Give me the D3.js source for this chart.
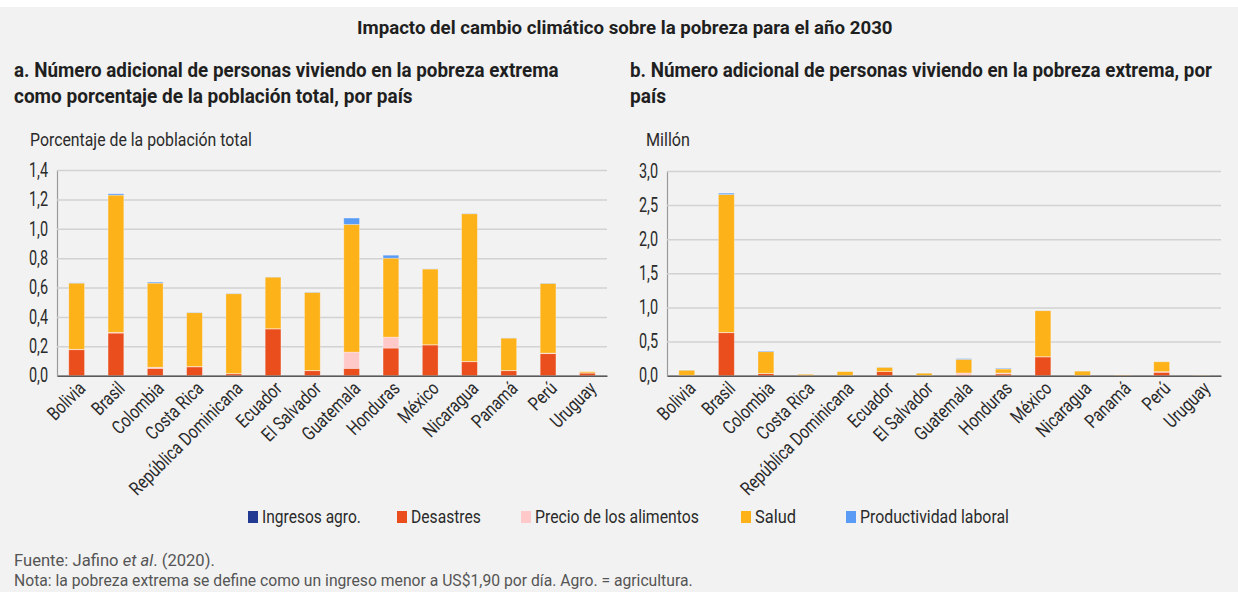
<!DOCTYPE html>
<html>
<head>
<meta charset="utf-8">
<script src="https://cdn.jsdelivr.net/npm/d3@7"></script>
<style>
  html, body { margin: 0; padding: 0; background: #fff; }
  svg { display: block; font-family: Roboto, "Noto Sans", sans-serif; }
</style>
</head>
<body>
<svg id="chart" width="1238" height="592"></svg>
<script>
// Countries shown on both panels
const countries = ["Bolivia", "Brasil", "Colombia", "Costa Rica", "República Dominicana", "Ecuador",
  "El Salvador", "Guatemala", "Honduras", "México", "Nicaragua", "Panamá", "Perú", "Uruguay"];

// Channels, bottom to top of each stack
const seriesNames = ["Ingresos agro.", "Desastres", "Precio de los alimentos", "Salud", "Productividad laboral"];
const seriesColors = ["#233a92", "#ea4e1c", "#ffc9c9", "#fdb21a", "#5a9bf5"];

// Panel a: additional people in extreme poverty, % of total population
const pctIngresos  = [0, 0, 0, 0, 0, 0, 0, 0, 0, 0, 0, 0, 0, 0];
const pctDesastres = [0.177, 0.29, 0.05, 0.06, 0.013, 0.318, 0.034, 0.05, 0.188, 0.209, 0.095, 0.034, 0.15, 0.018];
const pctPrecio    = [0.003, 0.005, 0.008, 0.003, 0.002, 0.002, 0.002, 0.111, 0.075, 0.002, 0.002, 0.002, 0.004, 0.001];
const pctSalud     = [0.45, 0.934, 0.572, 0.366, 0.543, 0.351, 0.531, 0.869, 0.537, 0.515, 1.005, 0.22, 0.474, 0.008];
const pctProd      = [0.002, 0.009, 0.007, 0.002, 0.002, 0.001, 0.002, 0.043, 0.02, 0.001, 0.002, 0.001, 0.002, 0];

// Panel b: additional people in extreme poverty, millions
const mlnIngresos  = [0, 0, 0, 0, 0, 0, 0, 0, 0, 0, 0, 0, 0, 0];
const mlnDesastres = [0.005, 0.63, 0.03, 0.002, 0.003, 0.06, 0.003, 0.01, 0.025, 0.275, 0.004, 0.003, 0.05, 0.001];
const mlnPrecio    = [0.001, 0.005, 0.005, 0, 0.001, 0.001, 0.001, 0.03, 0.015, 0.004, 0.001, 0, 0.01, 0];
const mlnSalud     = [0.075, 2.02, 0.317, 0.02, 0.058, 0.062, 0.034, 0.2, 0.058, 0.674, 0.063, 0.005, 0.145, 0.004];
const mlnProd      = [0.002, 0.02, 0.01, 0.001, 0.001, 0.002, 0.001, 0.01, 0.01, 0.002, 0.001, 0, 0.001, 0];

// Axis ticks
const pctTicks = [0, 0.2, 0.4, 0.6, 0.8, 1.0, 1.2, 1.4];
const mlnTicks = [0, 0.5, 1.0, 1.5, 2.0, 2.5, 3.0];

const svg = d3.select("#chart");
const fmt = d3.format(".1f");
const comma = v => fmt(v).replace(".", ",");

// Squeeze short labels horizontally to emulate a condensed face
function squeeze(sel, k) {
  sel.each(function () {
    const len = this.getComputedTextLength();
    d3.select(this).attr("textLength", len * k).attr("lengthAdjust", "spacingAndGlyphs");
  });
  return sel;
}

// Place a text at (x, y) and scale it horizontally to span width w
function label(parent, x, y, w, size, weight, color, build) {
  const t = parent.append("text").attr("x", 0).attr("y", 0)
    .attr("font-size", size).attr("font-weight", weight).attr("fill", color);
  build(t);
  const len = t.node().getComputedTextLength();
  t.attr("transform", `translate(${x},${y}) scale(${w / len},1)`);
  return t;
}

// Background panel
svg.append("rect").attr("x", 0).attr("y", 7).attr("width", 1238).attr("height", 585).attr("fill", "#f2f2f2");

// Main title
label(svg, 357, 34, 536, 19, 700, "#1f1f1f",
  t => t.text("Impacto del cambio climático sobre la pobreza para el año 2030"));

function panel(opts) {
  const g = svg.append("g");
  opts.title.forEach((line, i) => {
    label(g, opts.tx, 77 + i * 26, line.w, 20.5, 700, "#1f1f1f", t => t.text(line.s));
  });
  label(g, opts.tx + 16, 146, opts.unitW, 18.5, 400, "#2a2a2a", t => t.text(opts.unit));

  const x = d3.scaleBand().domain(countries).range(opts.xr).paddingInner(0.6).paddingOuter(0.3);
  const y = d3.scaleLinear().domain([0, opts.max]).range([375.7, opts.top]);

  // Gridlines and value labels
  const yAxis = d3.axisLeft(y).tickValues(opts.ticks).tickFormat(comma)
    .tickSize(-(opts.xr[1] - opts.xr[0])).tickPadding(9);
  const ya = g.append("g").attr("transform", `translate(${opts.xr[0]},0)`).call(yAxis);
  ya.select(".domain").attr("stroke", "#9a9a9a").attr("stroke-width", 1.2);
  ya.selectAll(".tick line").attr("stroke", "#d2d2d2").attr("stroke-width", 1.5);
  ya.selectAll(".tick text").attr("font-size", 19.5).attr("fill", "#2a2a2a")
    .attr("font-family", "Roboto, sans-serif");
  squeeze(ya.selectAll(".tick text"), 0.74);

  // Stacked bars
  const rows = countries.map((c, i) => {
    const r = { country: c };
    seriesNames.forEach((s, j) => { r[s] = opts.series[j][i]; });
    return r;
  });
  const stacked = d3.stack().keys(seriesNames)(rows);
  g.append("g").selectAll("g").data(stacked).join("g")
    .attr("fill", (d, i) => seriesColors[i])
    .selectAll("rect").data(d => d).join("rect")
    .attr("x", d => x(d.data.country))
    .attr("width", x.bandwidth())
    .attr("y", d => y(d[1]))
    .attr("height", d => Math.max(0, y(d[0]) - y(d[1])))
    .attr("stroke", "rgba(255,255,255,0.35)").attr("stroke-width", 0.8);

  // Baseline and country labels
  const xa = g.append("g").attr("transform", "translate(0,375.7)")
    .call(d3.axisBottom(x).tickSize(0).tickPadding(0));
  xa.select(".domain").attr("stroke", "#5a5a5a").attr("stroke-width", 1.5);
  xa.selectAll(".tick text")
    .attr("font-size", 19).attr("fill", "#2a2a2a").attr("font-family", "Roboto, sans-serif")
    .attr("text-anchor", "end").attr("dy", 0)
    .attr("transform", "translate(10,14) rotate(-45)");
  squeeze(xa.selectAll(".tick text"), 0.8);
}

panel({
  tx: 14,
  title: [{ s: "a. Número adicional de personas viviendo en la pobreza extrema", w: 545 },
          { s: "como porcentaje de la población total, por país", w: 399 }],
  unit: "Porcentaje de la población total", unitW: 222,
  xr: [57, 607], max: 1.4, top: 170, ticks: pctTicks,
  series: [pctIngresos, pctDesastres, pctPrecio, pctSalud, pctProd]
});

panel({
  tx: 630,
  title: [{ s: "b. Número adicional de personas viviendo en la pobreza extrema, por", w: 582 },
          { s: "país", w: 36 }],
  unit: "Millón", unitW: 44,
  xr: [667, 1221], max: 3.0, top: 171, ticks: mlnTicks,
  series: [mlnIngresos, mlnDesastres, mlnPrecio, mlnSalud, mlnProd]
});

// Legend
const legendX = [248, 397, 521, 741, 846];
const legendW = [99, 70, 164, 41, 149];
const lg = svg.append("g");
seriesNames.forEach((s, i) => {
  lg.append("rect").attr("x", legendX[i]).attr("y", 511).attr("width", 10).attr("height", 12)
    .attr("fill", seriesColors[i]);
  label(lg, legendX[i] + 14, 523, legendW[i], 18.5, 400, "#2a2a2a", t => t.text(s));
});

// Source and note
label(svg, 14, 566, 201, 16, 400, "#555", t => {
  t.append("tspan").text("Fuente: Jafino ");
  t.append("tspan").attr("font-style", "italic").text("et al");
  t.append("tspan").text(". (2020).");
});
label(svg, 14, 586, 679, 16, 400, "#555",
  t => t.text("Nota: la pobreza extrema se define como un ingreso menor a US$1,90 por día. Agro. = agricultura."));
</script>
</body>
</html>
